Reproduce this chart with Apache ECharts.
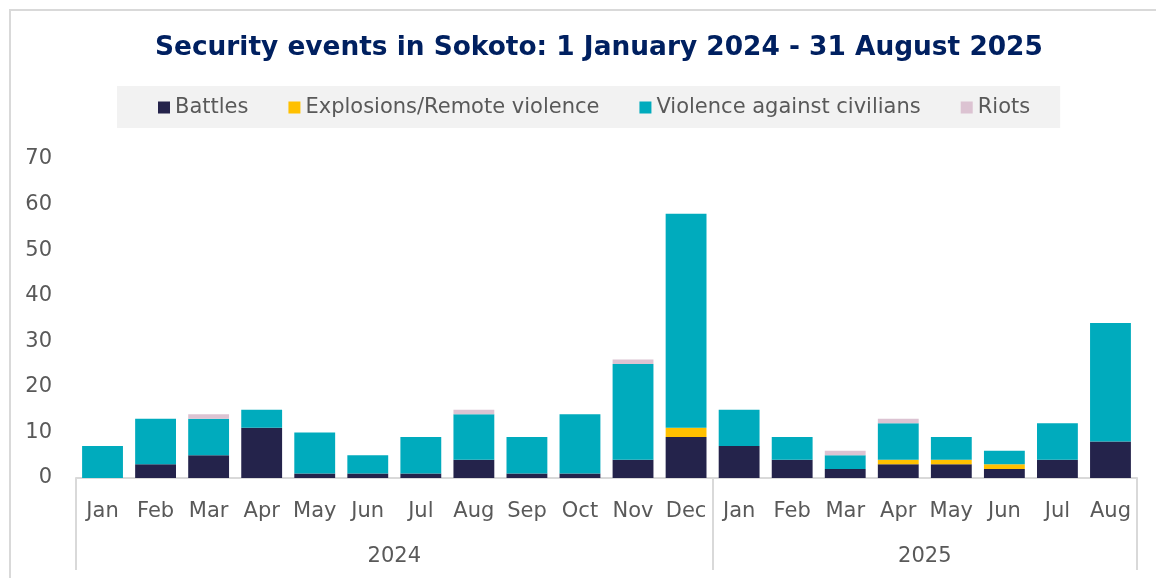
<!DOCTYPE html>
<html lang="en">
<head>
    <meta charset="UTF-8">
    <title>Security events in Sokoto</title>
    <script src="https://cdn.jsdelivr.net/npm/echarts@6/dist/echarts.min.js"></script>
    <style>
        html, body { margin: 0; padding: 0; background: #fff; }
        #chart { width: 1156px; height: 578px; }
    </style>
</head>
<body>
<div id="chart"></div>
<script>
    const months = ['Jan', 'Feb', 'Mar', 'Apr', 'May', 'Jun', 'Jul', 'Aug', 'Sep', 'Oct', 'Nov', 'Dec',
        'Jan', 'Feb', 'Mar', 'Apr', 'May', 'Jun', 'Jul', 'Aug'];
    const years = ['2024', '2025'];
    const monthsPerYear = [12, 8];

    const battles    = [0, 3, 5, 11, 1, 1, 1, 4, 1, 1, 4, 9, 7, 4, 2, 3, 3, 2, 4, 8];
    const explosions = [0, 0, 0, 0, 0, 0, 0, 0, 0, 0, 0, 2, 0, 0, 0, 1, 1, 1, 0, 0];
    const violence   = [7, 10, 8, 4, 9, 4, 8, 10, 8, 13, 21, 47, 8, 5, 3, 8, 5, 3, 8, 26];
    const riots      = [0, 0, 1, 0, 0, 0, 0, 1, 0, 0, 1, 0, 0, 0, 1, 1, 0, 0, 0, 0];

    const yTicks = [0, 10, 20, 30, 40, 50, 60, 70];

    const textGrey = '#595959';
    const lineGrey = '#d9d9d9';
    const font = 'DejaVu Sans';

    // centre of each year group on a 0..months.length scale
    const yearCentres = {};
    let start = 0;
    years.forEach(function (y, i) {
        yearCentres[start + monthsPerYear[i] / 2] = y;
        start += monthsPerYear[i];
    });
    const groupStarts = [0, monthsPerYear[0]];

    const chart = echarts.init(document.getElementById('chart'));

    function barSeries(name, data, color) {
        return {
            name: name,
            type: 'bar',
            stack: 'total',
            data: data,
            barCategoryGap: '23%',
            itemStyle: { color: color },
            emphasis: { disabled: true }
        };
    }

    chart.setOption({
        animation: false,
        textStyle: { fontFamily: font },
        title: {
            text: 'Security events in Sokoto: 1 January 2024 - 31 August 2025',
            left: 150,
            top: 30,
            textStyle: { fontFamily: font, fontWeight: 'bold', fontSize: 26.4, color: '#002060' }
        },
        graphic: [{
            type: 'rect',
            shape: { x: 10, y: 10, width: 1200, height: 600 },
            style: { fill: null, stroke: lineGrey, lineWidth: 2 },
            silent: true
        }],
        legend: {
            top: 86,
            left: 117,
            padding: [11, 30, 10, 41],
            backgroundColor: '#f2f2f2',
            itemWidth: 12,
            itemHeight: 12,
            itemGap: 40,
            icon: 'rect',
            selectedMode: false,
            textStyle: { fontSize: 21, color: textGrey, fontFamily: font }
        },
        grid: { left: 76, right: 19, top: 159, bottom: 100, containLabel: false },
        xAxis: [{
            type: 'category',
            data: months,
            axisLine: { lineStyle: { color: lineGrey, width: 2 } },
            axisTick: {
                show: true,
                length: 92,
                interval: function (index) { return groupStarts.indexOf(index) >= 0; },
                lineStyle: { color: lineGrey, width: 2 }
            },
            axisLabel: { interval: 0, margin: 23, fontSize: 21, color: textGrey, fontFamily: font }
        }, {
            type: 'value',
            position: 'bottom',
            min: 0,
            max: months.length,
            interval: 1,
            axisLine: { show: false },
            axisTick: { show: false },
            splitLine: { show: false },
            axisLabel: {
                margin: 68,
                fontSize: 21,
                color: textGrey,
                fontFamily: font,
                showMinLabel: true,
                showMaxLabel: true,
                hideOverlap: false,
                formatter: function (v) { return yearCentres[v] || ''; }
            }
        }],
        yAxis: {
            type: 'value',
            min: yTicks[0],
            max: yTicks[yTicks.length - 1],
            interval: 10,
            axisLine: { show: false },
            axisTick: { show: false },
            splitLine: { show: false },
            axisLabel: { margin: 24, fontSize: 21, color: textGrey, fontFamily: font }
        },
        series: [
            barSeries('Battles', battles, '#24234b'),
            barSeries('Explosions/Remote violence', explosions, '#ffc000'),
            barSeries('Violence against civilians', violence, '#00abbd'),
            barSeries('Riots', riots, '#dcc3d2')
        ]
    });
</script>
</body>
</html>
